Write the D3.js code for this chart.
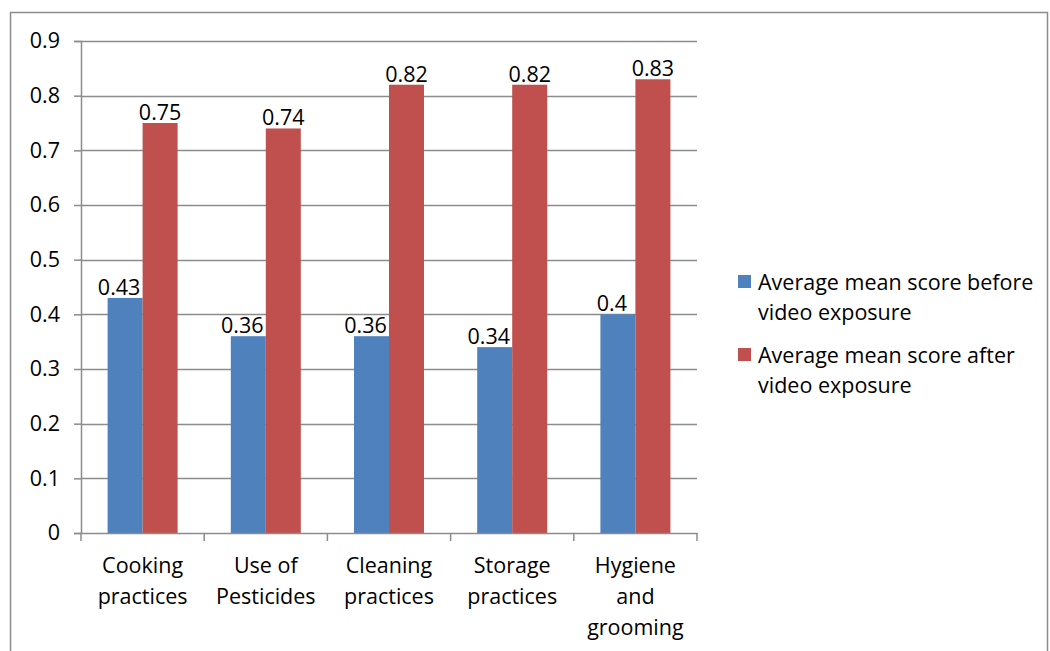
<!DOCTYPE html>
<html>
<head>
<meta charset="utf-8">
<script src="https://cdn.jsdelivr.net/npm/d3@7"></script>
<style>
  html, body { margin: 0; padding: 0; background: #fff; }
  svg { display: block; font-family: "Open Sans", Lato, "Liberation Sans", sans-serif; }
</style>
</head>
<body>
<svg id="chart" width="1050" height="651"></svg>
<script>
// Practice categories (each label split into lines)
const categories = ["Cooking practices", "Use of Pesticides", "Cleaning practices", "Storage practices", "Hygiene and grooming"];
const categoryLines = [["Cooking", "practices"], ["Use of", "Pesticides"], ["Cleaning", "practices"], ["Storage", "practices"], ["Hygiene", "and", "grooming"]];
const seriesNames = ["Average mean score before video exposure", "Average mean score after video exposure"];
const legendLines = [["Average mean score before", "video exposure"], ["Average mean score after", "video exposure"]];
const beforeValues = [0.43, 0.36, 0.36, 0.34, 0.4];
const afterValues = [0.75, 0.74, 0.82, 0.82, 0.83];
const yTicks = [0, 0.1, 0.2, 0.3, 0.4, 0.5, 0.6, 0.7, 0.8, 0.9];
const colors = ["#4F81BD", "#C0504D"];

const FONT = 21.5;
const svg = d3.select("#chart");

// outer frame (bottom edge runs past the view)
svg.append("path")
  .attr("d", "M10.5,651 V12.5 H1047.5 V651")
  .attr("fill", "none").attr("stroke", "#8c8c8c").attr("stroke-width", 1.5);

const plot = { left: 81, right: 697, top: 41, bottom: 533 };

const y = d3.scaleLinear().domain([0, 0.9]).range([plot.bottom, plot.top]);
const x0 = d3.scaleBand().domain(categories).range([plot.left, plot.right]).paddingInner(0).paddingOuter(0);
const innerWidth = x0.bandwidth() * (70 / 123.2);
const x1 = d3.scaleBand().domain([0, 1]).range([0, innerWidth]).padding(0);
const groupOffset = (x0.bandwidth() - innerWidth) / 2;

// horizontal gridlines
svg.append("g")
  .selectAll("line")
  .data(yTicks.slice(1))
  .join("line")
  .attr("x1", plot.left).attr("x2", plot.right)
  .attr("y1", d => Math.round(y(d)) + 0.5).attr("y2", d => Math.round(y(d)) + 0.5)
  .attr("stroke", "#8c8c8c").attr("stroke-width", 1.5);

// bars
const groups = svg.append("g")
  .selectAll("g")
  .data(categories)
  .join("g")
  .attr("transform", d => `translate(${x0(d) + groupOffset},0)`);

const series = [beforeValues, afterValues];
groups.selectAll("rect")
  .data((d, i) => series.map((s, k) => ({ k, v: s[i] })))
  .join("rect")
  .attr("x", d => x1(d.k))
  .attr("y", d => y(d.v))
  .attr("width", x1.bandwidth())
  .attr("height", d => y(0) - y(d.v))
  .attr("fill", d => colors[d.k]);

// value labels
groups.selectAll("text")
  .data((d, i) => series.map((s, k) => ({ k, v: s[i] })))
  .join("text")
  .attr("x", d => x1(d.k) + x1.bandwidth() / 2 + (d.k === 0 ? -6 : 0))
  .attr("y", d => y(d.v) - 3)
  .attr("text-anchor", "middle")
  .attr("font-size", FONT)
  .attr("fill", "#000")
  .text(d => d3.format("")(d.v));

// y axis
const yAxis = svg.append("g")
  .attr("transform", `translate(${plot.left},0)`)
  .call(d3.axisLeft(y).tickValues(yTicks).tickSize(7).tickPadding(14).tickFormat(d3.format("")));
yAxis.select(".domain").attr("stroke", "#8c8c8c").attr("stroke-width", 1.5);
yAxis.selectAll(".tick line").attr("stroke", "#8c8c8c").attr("stroke-width", 1.5);
yAxis.selectAll(".tick text").attr("font-size", FONT).attr("fill", "#000")
  .attr("font-family", "'Open Sans', Lato, sans-serif");

// x axis
const xAxis = svg.append("g")
  .attr("transform", `translate(0,${plot.bottom})`)
  .call(d3.axisBottom(x0).tickValues([]).tickSizeOuter(0));
xAxis.select(".domain").attr("stroke", "#8c8c8c").attr("stroke-width", 1.5);

// category tick marks at band boundaries
const boundaries = categories.map(c => x0(c)).concat([plot.right]);
xAxis.append("g").selectAll("line")
  .data(boundaries)
  .join("line")
  .attr("x1", d => d).attr("x2", d => d)
  .attr("y1", 0).attr("y2", 8)
  .attr("stroke", "#8c8c8c").attr("stroke-width", 1.5);

// category labels
svg.append("g")
  .selectAll("text")
  .data(categories)
  .join("text")
  .attr("text-anchor", "middle")
  .attr("font-size", FONT)
  .attr("fill", "#000")
  .attr("transform", d => `translate(${x0(d) + x0.bandwidth() / 2},573)`)
  .each(function(d, i) {
    d3.select(this).selectAll("tspan")
      .data(categoryLines[i])
      .join("tspan")
      .attr("x", 0)
      .attr("dy", (t, j) => j === 0 ? 0 : 31)
      .text(t => t);
  });

// legend
const legend = svg.append("g").attr("transform", "translate(738,275)");
const entries = legend.selectAll("g")
  .data(seriesNames)
  .join("g")
  .attr("transform", (d, i) => `translate(0,${i * 73})`);
entries.append("rect")
  .attr("width", 13).attr("height", 13)
  .attr("fill", (d, i) => colors[i]);
entries.append("text")
  .attr("font-size", FONT)
  .attr("fill", "#000")
  .attr("transform", "translate(20,15)")
  .each(function(d, i) {
    d3.select(this).selectAll("tspan")
      .data(legendLines[i])
      .join("tspan")
      .attr("x", 0)
      .attr("dy", (t, j) => j === 0 ? 0 : 30)
      .text(t => t);
  });
</script>
</body>
</html>
